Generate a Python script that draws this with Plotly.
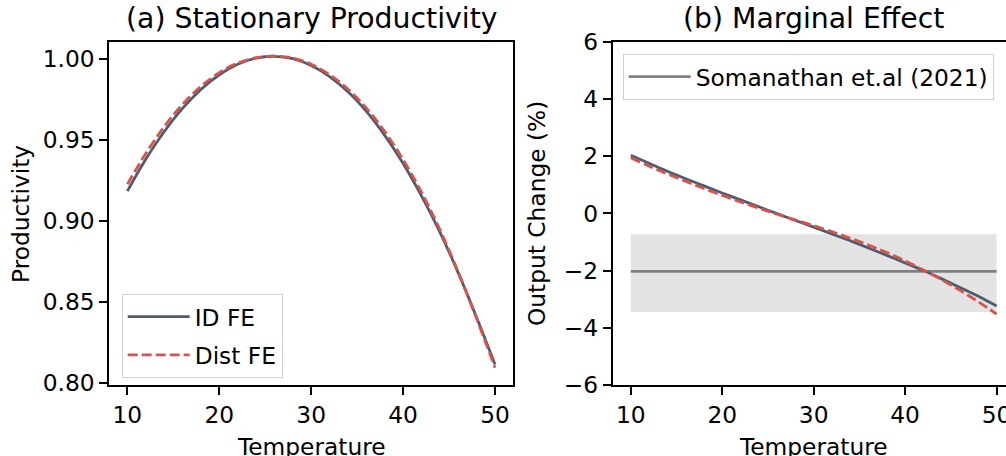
import plotly.graph_objects as go

# ---------------- data ----------------
temperature = [10, 12, 14, 16, 18, 20, 22, 24, 26, 28, 30,
               32, 34, 36, 38, 40, 42, 44, 46, 48, 50]

# (a) Stationary productivity
prod_id_fe = [0.9183, 0.9379, 0.9549, 0.9693, 0.9810, 0.9901, 0.9966, 1.0004,
              1.0015, 1.0000, 0.9958, 0.9890, 0.9796, 0.9675, 0.9527, 0.9353,
              0.9153, 0.8930, 0.8678, 0.8402, 0.8112]
prod_dist_fe = [0.9225, 0.9415, 0.9580, 0.9718, 0.9829, 0.9914, 0.9973, 1.0006,
                1.0016, 1.0004, 0.9966, 0.9902, 0.9812, 0.9695, 0.9550, 0.9377,
                0.9176, 0.8945, 0.8683, 0.8395, 0.8093]

# (b) Marginal effect, output change (%)
me_id_fe = [2.03, 1.75, 1.47, 1.21, 0.96, 0.71, 0.47, 0.23, -0.01, -0.25, -0.48,
            -0.72, -0.96, -1.21, -1.47, -1.73, -2.00, -2.29, -2.59, -2.90, -3.24]
me_dist_fe = [1.94, 1.65, 1.38, 1.12, 0.87, 0.63, 0.40, 0.18, -0.03, -0.23, -0.43,
              -0.64, -0.87, -1.11, -1.37, -1.66, -1.98, -2.32, -2.69, -3.09, -3.52]

# Somanathan et al. (2021) estimate and band
soma_x = [10, 50]
soma_mean = [-2.03, -2.03]
soma_low = [-3.45, -3.45]
soma_high = [-0.73, -0.73]

prod_ticks = [0.80, 0.85, 0.90, 0.95, 1.00]
me_ticks = [-6, -4, -2, 0, 2, 4, 6]
temp_ticks = [10, 20, 30, 40, 50]

# ---------------- styling ----------------
W, H = 1006, 456
FONT = "DejaVu Sans"
FS = 23.3
C_ID = "#4d5c71"
C_DIST = "#d9534a"
C_SOMA = "#808080"

fig = go.Figure()

# left panel
fig.add_trace(go.Scatter(x=temperature, y=prod_id_fe, mode="lines", name="ID FE",
                         line=dict(color=C_ID, width=2.8, shape="spline"),
                         xaxis="x", yaxis="y", legend="legend", legendgroup="a"))
fig.add_trace(go.Scatter(x=temperature, y=prod_dist_fe, mode="lines", name="Dist FE",
                         line=dict(color=C_DIST, width=2.8, dash="10px,4px", shape="spline"),
                         xaxis="x", yaxis="y", legend="legend", legendgroup="b"))

# right panel
fig.add_trace(go.Scatter(x=soma_x + soma_x[::-1], y=soma_high + soma_low[::-1],
                         fill="toself", fillcolor="rgba(0,0,0,0.11)", mode="lines",
                         line=dict(width=0), showlegend=False, hoverinfo="skip",
                         xaxis="x2", yaxis="y2"))
fig.add_trace(go.Scatter(x=soma_x, y=soma_mean, mode="lines", name="Somanathan et.al (2021)",
                         line=dict(color=C_SOMA, width=2.8),
                         xaxis="x2", yaxis="y2", legend="legend2"))
fig.add_trace(go.Scatter(x=temperature, y=me_id_fe, mode="lines", name="ID FE",
                         line=dict(color=C_ID, width=2.8, shape="spline"),
                         xaxis="x2", yaxis="y2", showlegend=False))
fig.add_trace(go.Scatter(x=temperature, y=me_dist_fe, mode="lines", name="Dist FE",
                         line=dict(color=C_DIST, width=2.8, dash="10px,4px", shape="spline"),
                         xaxis="x2", yaxis="y2", showlegend=False))

axis_common = dict(showline=True, linecolor="black", linewidth=1.6,
                   ticks="outside", ticklen=8, tickwidth=1.6, tickcolor="black",
                   showgrid=False, zeroline=False, automargin=False,
                   ticklabeloverflow="allow",
                   tickfont=dict(family=FONT, size=FS, color="black"))

left_x0, left_x1 = 109 / W, 513.4 / W
right_x0 = 612.5 / W
y0, y1 = 1 - 385 / H, 1 - 41.7 / H

fig.update_layout(
    width=W, height=H,
    margin=dict(l=0, r=0, t=0, b=0, autoexpand=False),
    paper_bgcolor="white", plot_bgcolor="white",
    font=dict(family=FONT, size=FS, color="black"),
    xaxis=dict(domain=[left_x0, left_x1], range=[8, 52], tickvals=temp_ticks,
               mirror=True, anchor="y", **axis_common),
    yaxis=dict(domain=[y0, y1], range=[0.7986, 1.0105], tickvals=prod_ticks,
               tickformat=".2f", mirror=True, anchor="x", **axis_common),
    xaxis2=dict(domain=[right_x0, 1.0], range=[8, 51.03], tickvals=temp_ticks,
                mirror=True, anchor="y2", **axis_common),
    yaxis2=dict(domain=[y0, y1], range=[-6, 6], tickvals=me_ticks,
                anchor="x2", **axis_common),
    legend=dict(x=121.7 / W, y=1 - 294 / H, xanchor="left", yanchor="top",
                bgcolor="rgba(255,255,255,0.8)", bordercolor="#d0d0d0", borderwidth=1,
                font=dict(family=FONT, size=FS), tracegroupgap=5, itemwidth=62),
    legend2=dict(x=622.7 / W, y=1 - 54 / H, xanchor="left", yanchor="top",
                 bgcolor="rgba(255,255,255,0.8)", bordercolor="#d0d0d0", borderwidth=1,
                 font=dict(family=FONT, size=FS), itemwidth=62),
    showlegend=True,
)

ann = []
# panel titles
ann.append(dict(text="(a) Stationary Productivity", x=311 / W, y=1 - 19 / H,
                xref="paper", yref="paper", xanchor="center", yanchor="middle",
                showarrow=False, font=dict(family=FONT, size=28.3, color="black")))
ann.append(dict(text="(b) Marginal Effect", x=813.5 / W, y=1 - 19 / H,
                xref="paper", yref="paper", xanchor="center", yanchor="middle",
                showarrow=False, font=dict(family=FONT, size=28.3, color="black")))
# axis titles
ann.append(dict(text="Temperature", x=311 / W, y=1 - 446.5 / H,
                xref="paper", yref="paper", xanchor="center", yanchor="middle",
                showarrow=False, font=dict(family=FONT, size=FS, color="black")))
ann.append(dict(text="Temperature", x=813.5 / W, y=1 - 446.5 / H,
                xref="paper", yref="paper", xanchor="center", yanchor="middle",
                showarrow=False, font=dict(family=FONT, size=FS, color="black")))
ann.append(dict(text="Productivity", x=20 / W, y=1 - 214 / H, textangle=-90,
                xref="paper", yref="paper", xanchor="center", yanchor="middle",
                showarrow=False, font=dict(family=FONT, size=FS, color="black")))
ann.append(dict(text="Output Change (%)", x=536 / W, y=1 - 214 / H, textangle=-90,
                xref="paper", yref="paper", xanchor="center", yanchor="middle",
                showarrow=False, font=dict(family=FONT, size=FS, color="black")))
fig.update_layout(annotations=ann)

fig.write_html("out.html")
